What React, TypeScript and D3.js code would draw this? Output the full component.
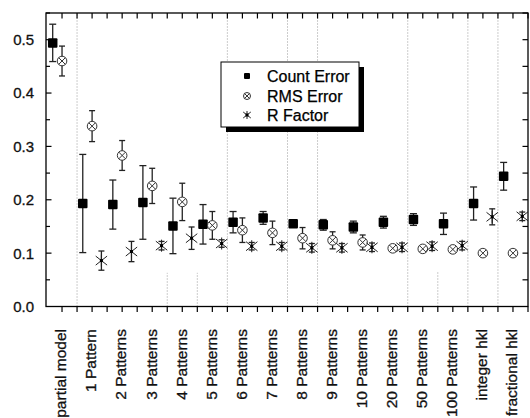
import React from 'react';
import * as d3 from 'd3';

const categories = [
  'partial model', '1 Pattern', '2 Patterns', '3 Patterns', '4 Patterns', '5 Patterns',
  '6 Patterns', '7 Patterns', '8 Patterns', '9 Patterns', '10 Patterns', '20 Patterns',
  '50 Patterns', '100 Patterns', 'integer hkl', 'fractional hkl',
];

const countError = [0.494, 0.193, 0.191, 0.195, 0.151, 0.154, 0.158, 0.166, 0.155, 0.153, 0.149, 0.158, 0.163, 0.155, 0.193, 0.244];
const countErrorBar = [0.035, 0.092, 0.046, 0.069, 0.052, 0.037, 0.02, 0.012, 0.006, 0.01, 0.011, 0.011, 0.011, 0.02, 0.031, 0.026];

const rmsError = [0.46, 0.338, 0.283, 0.226, 0.196, 0.152, 0.143, 0.138, 0.128, 0.124, 0.12, 0.109, 0.108, 0.107, 0.1, 0.1];
const rmsErrorBar = [0.028, 0.029, 0.028, 0.033, 0.035, 0.026, 0.023, 0.022, 0.02, 0.016, 0.014, 0.005, 0.005, 0.005, 0.005, 0.005];

const rFactor: (number | null)[] = [null, 0.086, 0.103, 0.114, 0.128, 0.118, 0.113, 0.113, 0.11, 0.11, 0.111, 0.111, 0.113, 0.114, 0.168, 0.169];
const rFactorBar: (number | null)[] = [null, 0.018, 0.019, 0.008, 0.021, 0.007, 0.007, 0.007, 0.008, 0.008, 0.008, 0.008, 0.008, 0.008, 0.015, 0.008];

const yTickLabels = [0, 0.1, 0.2, 0.3, 0.4, 0.5];

const separators = [
  { at: 0.5, from: 0, to: 0.55 },
  { at: 3.5, from: 0, to: 0.063 },
  { at: 4.5, from: 0, to: 0.063 },
  { at: 5.5, from: 0, to: 0.55 },
  { at: 7.5, from: 0, to: 0.55 },
  { at: 8.5, from: 0, to: 0.55 },
  { at: 11.5, from: 0, to: 0.55 },
  { at: 12.5, from: 0, to: 0.065 },
  { at: 13.5, from: 0, to: 0.55 },
  { at: 14.5, from: 0, to: 0.55 },
];

const FONT = '"Liberation Sans", Arial, Helvetica, sans-serif';

function Square({ cx, cy, s }: { cx: number; cy: number; s: number }) {
  return <rect x={cx - s / 2} y={cy - s / 2} width={s} height={s} rx={1} fill="#000" />;
}

function CrossCircle({ cx, cy, r }: { cx: number; cy: number; r: number }) {
  const d = r * 0.7;
  return (
    <g stroke="#333" strokeWidth={1} fill="#fff">
      <circle cx={cx} cy={cy} r={r} />
      <line x1={cx - d} y1={cy - d} x2={cx + d} y2={cy + d} />
      <line x1={cx - d} y1={cy + d} x2={cx + d} y2={cy - d} />
    </g>
  );
}

function Asterisk({ cx, cy, r }: { cx: number; cy: number; r: number }) {
  const dx = r * 0.95;
  const dy = r * 0.75;
  return (
    <g stroke="#222" strokeWidth={1}>
      <line x1={cx} y1={cy - r} x2={cx} y2={cy + r} />
      <line x1={cx - dx} y1={cy - dy} x2={cx + dx} y2={cy + dy} />
      <line x1={cx - dx} y1={cy + dy} x2={cx + dx} y2={cy - dy} />
      <rect x={cx - 1.5} y={cy - 1.5} width={3} height={3} fill="#000" stroke="none" />
    </g>
  );
}

function ErrorBar({ cx, y0, y1, cap }: { cx: number; y0: number; y1: number; cap: number }) {
  return (
    <g stroke="#222" strokeWidth={1.3}>
      <line x1={cx} y1={y0} x2={cx} y2={y1} />
      <line x1={cx - cap} y1={y0} x2={cx + cap} y2={y0} />
      <line x1={cx - cap} y1={y1} x2={cx + cap} y2={y1} />
    </g>
  );
}

export default function App() {
  const left = 46, right = 528, top = 13, bottom = 306.5;
  const x = d3.scaleLinear().domain([-0.533, 15.5]).range([left, right]);
  const y = d3.scaleLinear().domain([0, 0.55]).range([bottom, top]);
  const off = 0.31;

  const xTicks = d3.range(0, 15.51, 0.5);
  const yMinor = d3.range(0.05, 0.551, 0.05);

  return (
    <svg width={530} height={418} style={{ position: 'absolute', left: 0, top: 0 }} fontFamily={FONT}>
      <rect x={0} y={0} width={530} height={418} fill="#fff" />
      {separators.map((s, i) => (
        <line key={'sep' + i} x1={x(s.at)} x2={x(s.at)} y1={y(s.from)} y2={y(s.to)}
          stroke="#999" strokeWidth={1} strokeDasharray="1,2" />
      ))}
      <rect x={left} y={top} width={right - left} height={bottom - top} fill="none" stroke="#000" strokeWidth={1.3} />
      {yMinor.map((v, i) => {
        const major = Math.abs(v * 10 - Math.round(v * 10)) < 1e-6;
        return (
          <g key={'yt' + i} stroke="#000" strokeWidth={1.2}>
            <line x1={left} x2={left + (major ? 5.5 : 4)} y1={y(v)} y2={y(v)} />
            <line x1={right} x2={right - 5.5} y1={y(v)} y2={y(v)} />
          </g>
        );
      })}
      {yTickLabels.map((v) => (
        <text key={'yl' + v} x={34} y={y(v)} dy="0.36em" textAnchor="end" fontSize={15}
          fill="#111" stroke="#111" strokeWidth={0.3}>
          {d3.format('.1f')(v)}
        </text>
      ))}
      {xTicks.map((t, i) => (
        <g key={'xt' + i} stroke="#000" strokeWidth={1.2}>
          <line x1={x(t)} x2={x(t)} y1={top} y2={top + 5.5} />
          <line x1={x(t)} x2={x(t)} y1={bottom} y2={bottom + 5.5} />
        </g>
      ))}
      {categories.map((c, i) => (
        <text key={'xl' + i} transform={`translate(${x(i)},329) rotate(-90)`} textAnchor="end"
          dy="0.28em" fontSize={15.5} fill="#111" stroke="#111" strokeWidth={0.3}>
          {c}
        </text>
      ))}
      {countError.map((v, i) => (
        <g key={'ce' + i}>
          <ErrorBar cx={x(i - off)} y0={y(v + countErrorBar[i])} y1={y(v - countErrorBar[i])} cap={3.5} />
          <Square cx={x(i - off)} cy={y(v)} s={9.5} />
        </g>
      ))}
      {rmsError.map((v, i) => (
        <g key={'rm' + i}>
          <ErrorBar cx={x(i)} y0={y(v + rmsErrorBar[i])} y1={y(v - rmsErrorBar[i])} cap={3} />
          <CrossCircle cx={x(i)} cy={y(v)} r={4.8} />
        </g>
      ))}
      {rFactor.map((v, i) =>
        v == null ? null : (
          <g key={'rf' + i}>
            <ErrorBar cx={x(i + off)} y0={y(v + (rFactorBar[i] as number))} y1={y(v - (rFactorBar[i] as number))} cap={3} />
            <Asterisk cx={x(i + off)} cy={y(v)} r={6} />
          </g>
        )
      )}
      <g>
        <rect x={226} y={67} width={138} height={65} fill="#000" />
        <rect x={221} y={62} width={138} height={65} fill="#fff" stroke="#000" strokeWidth={1} />
        <Square cx={247} cy={76} s={6} />
        <text x={267} y={76} dy="0.36em" fontSize={16} fill="#000" stroke="#000" strokeWidth={0.25}>Count Error</text>
        <CrossCircle cx={247} cy={96} r={3.5} />
        <text x={267} y={96} dy="0.36em" fontSize={16} fill="#000" stroke="#000" strokeWidth={0.25}>RMS Error</text>
        <Asterisk cx={247} cy={115} r={4} />
        <text x={267} y={115} dy="0.36em" fontSize={16} fill="#000" stroke="#000" strokeWidth={0.25}>R Factor</text>
      </g>
    </svg>
  );
}
